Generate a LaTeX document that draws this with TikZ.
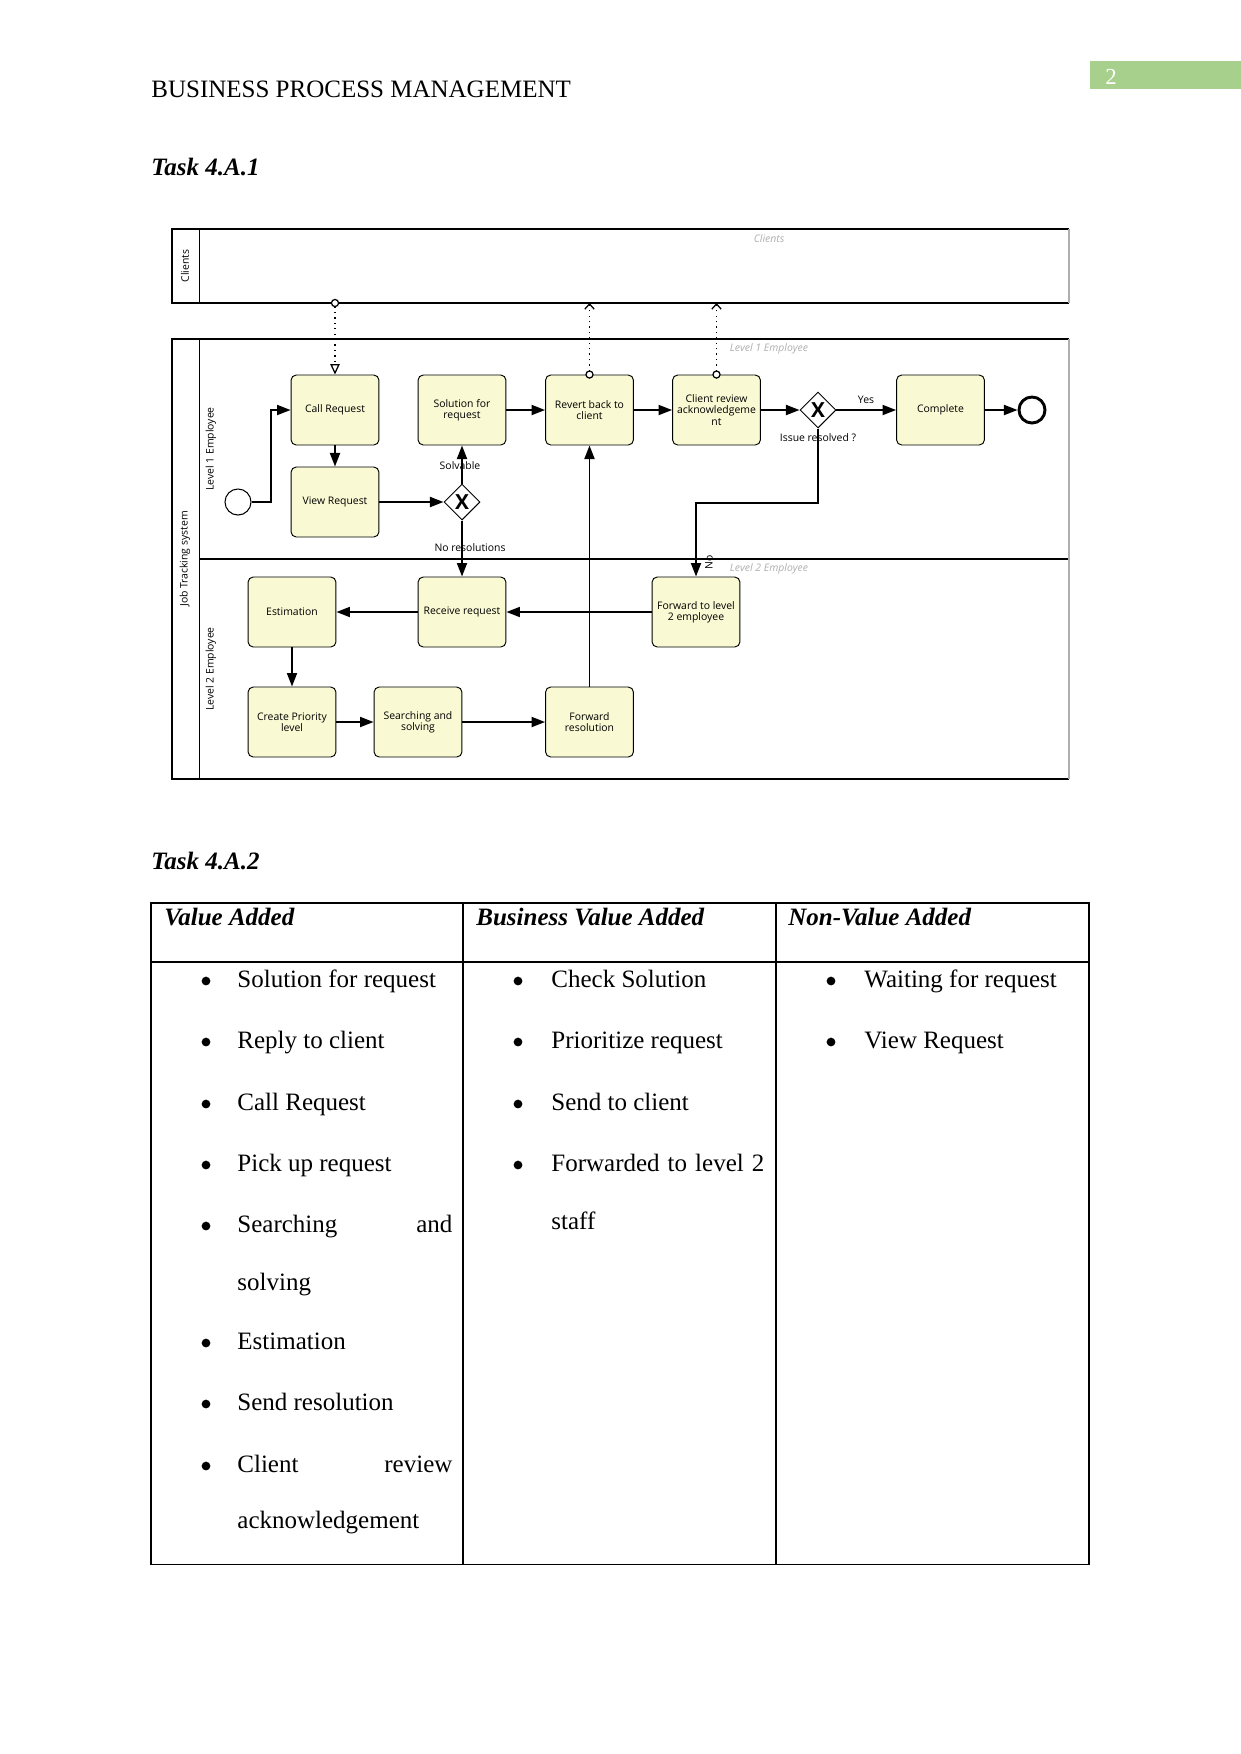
\documentclass[tikz,border=0pt]{standalone}
\usepackage{fontspec}
\setmainfont{Liberation Serif}
\newfontfamily\bpmnfont{Open Sans}
\usetikzlibrary{arrows.meta,shapes.geometric}

\definecolor{taskfill}{RGB}{249,249,212}
\definecolor{lanegray}{RGB}{175,175,175}
\definecolor{pagegreen}{RGB}{168,208,141}

\tikzset{
  bpmn/.style={font=\bpmnfont\fontsize{5}{5.4}\selectfont},
  task/.style={bpmn, draw, line width=0.45pt, rounded corners=2.5pt, fill=taskfill,
    minimum width=42.2pt, minimum height=33.6pt, inner sep=1pt, align=center},
  gate/.style={draw, diamond, line width=0.45pt, fill=white, minimum size=17.3pt,
    inner sep=0pt, font=\bpmnfont\fontsize{10}{10}\bfseries\selectfont},
  event/.style={draw, circle, fill=white, minimum size=12.5pt, inner sep=0pt},
  seq/.style={line width=0.9pt, -{Triangle[length=6.5pt,width=4.8pt]}},
  msg/.style={line width=0.6pt, dotted, shorten <=-2pt},
  msgin/.style={msg, {Circle[fill=white,length=4pt]}-{Triangle[open,length=5pt,width=4.5pt]}},
  msgout/.style={msg, {Circle[fill=white,length=4pt]}-{Straight Barb[length=2.5pt,width=4.5pt]}},
  lbl/.style={bpmn, inner sep=0pt},
  ghost/.style={inner sep=0pt, font=\bpmnfont\itshape\fontsize{5}{5}\selectfont, text=lanegray},
  lanelbl/.style={lbl, rotate=90},
  tcell/.style={anchor=base west, inner sep=0pt, font=\fontsize{12}{14}\selectfont},
  bul/.style={circle, fill, inner sep=0pt, minimum size=4.2pt},
  thead/.style={tcell, font=\fontsize{12}{14}\selectfont\bfseries\itshape}
}

\begin{document}
\begin{tikzpicture}[x=0.48pt, y=-0.48pt]
\fill[white] (0,0) rectangle (1241,1754);
\useasboundingbox (0,0) rectangle (1241,1754);

% page head
\fill[pagegreen] (1090,61) rectangle (1241,89);
\node[anchor=base west, inner sep=0pt, text=white, font=\fontsize{11}{13}\selectfont] (pg) at (1105,84) {2};
\node[tcell] (title) at (151,97) {BUSINESS PROCESS MANAGEMENT};
\node[thead] (taska) at (151,175) {Task 4.A.1};

% pools and lanes
\draw[line width=0.5pt] (1069,229) -- (172,229) -- (172,303) -- (1069,303);
\draw[line width=0.5pt] (199.5,229) -- (199.5,303);
\draw[lanegray, line width=0.5pt] (1069,229) -- (1069,303);
\draw[line width=0.5pt] (1069,339) -- (172,339) -- (172,779) -- (1069,779);
\draw[line width=0.5pt] (199.5,339) -- (199.5,779);
\draw[line width=0.5pt] (199.5,559) -- (1069,559);
\draw[lanegray, line width=0.5pt] (1069,339) -- (1069,779);

\node[lanelbl] (pcl) at (185,266) {Clients};
\node[lanelbl] (pjt) at (185,559) {Job Tracking system};
\node[lanelbl] (ll1) at (211,449) {Level 1 Employee};
\node[lanelbl] (ll2) at (211,669) {Level 2 Employee};
\node[ghost] (gcl) at (769,239) {Clients};
\node[ghost] (gl1) at (769,349) {Level 1 Employee};
\node[ghost] (gl2) at (769,569) {Level 2 Employee};

% level 1
\node[event, line width=0.5pt] (st) at (238,502) {};
\node[task] (cr) at (335,410) {Call Request};
\node[task] (vr) at (335,502) {View Request};
\node[gate] (g1) at (462,502) {X};
\node[task] (sr) at (462,410) {Solution for\\request};
\node[task] (rb) at (589.5,410) {Revert back to\\client};
\node[task] (cv) at (716.5,410) {Client review\\acknowledgeme\\nt};
\node[gate] (g2) at (818,410) {X};
\node[task] (cp) at (940.5,410) {Complete};
\node[event, line width=1.4pt] (en) at (1032,410) {};

% level 2
\node[task] (est) at (292,612) {Estimation};
\node[task] (rr) at (462,612) {Receive request};
\node[task] (fw) at (696,612) {Forward to level\\2 employee};
\node[task] (cpl) at (292,722) {Create Priority\\level};
\node[task] (srch) at (418,722) {Searching and\\solving};
\node[task] (fres) at (589.5,722) {Forward\\resolution};

\coordinate (se) at (271,502);
\coordinate (g2b) at (818,503);
\coordinate (m1) at (335,303);
\coordinate (m2) at (589.5,303);
\coordinate (m3) at (716.5,303);

\draw[seq] (st) -- (se) |- (cr);
\draw[seq] (cr) -- (vr);
\draw[seq] (vr) -- (g1);
\draw[seq] (g1) -- (sr);
\draw[seq] (g1) -- (rr);
\draw[seq] (sr) -- (rb);
\draw[seq] (rb) -- (cv);
\draw[seq] (cv) -- (g2);
\draw[seq] (g2) -- (cp);
\draw[seq] (cp) -- (en);
\draw[seq] (g2) -- (g2b) -| (fw);
\draw[seq] (fw) -- (rr);
\draw[seq] (rr) -- (est);
\draw[seq] (est) -- (cpl);
\draw[seq] (cpl) -- (srch);
\draw[seq] (srch) -- (fres);
\draw[seq] (fres) -- (rb);

\draw[msgin] (m1) -- (cr);
\draw[msgout] (rb) -- (m2);
\draw[msgout] (cv) -- (m3);

\node[lbl] (solv) at (460,466) {Solvable};
\node[lbl] (nores) at (470,548) {No resolutions};
\node[lbl] (yes) at (866,400) {Yes};
\node[lbl] (iss) at (818,438) {Issue resolved ?};
\node[lbl, rotate=90] (no) at (709,562) {No};

% table
\node[thead] (taskb) at (151,869) {Task 4.A.2};
\draw[line width=0.5pt] (151,903) rectangle (1089,1564);
\draw[line width=0.5pt] (463,903) -- (463,1564);
\draw[line width=0.5pt] (776,903) -- (776,1564);
\draw[line width=1pt] (151,962) -- (1089,962);

\node[thead] (h1) at (164,925) {Value Added};
\node[thead] (h2) at (476,925) {Business Value Added};
\node[thead] (h3) at (788,925) {Non-Value Added};

% value added
\node[bul] (b1) at (206,981) {};
\node[tcell] (v1) at (237,987) {Solution for request};
\node[bul] (b2) at (206,1042) {};
\node[tcell] (v2) at (237,1048) {Reply to client};
\node[bul] (b3) at (206,1104) {};
\node[tcell] (v3) at (237,1110) {Call Request};
\node[bul] (b4) at (206,1165) {};
\node[tcell] (v4) at (237,1171) {Pick up request};
\node[bul] (b5) at (206,1226) {};
\node[tcell] (v5) at (237,1232) {\makebox[103.2pt][s]{Searching and}};
\node[tcell] (v5b) at (237,1290) {solving};
\node[bul] (b6) at (206,1343) {};
\node[tcell] (v6) at (237,1349) {Estimation};
\node[bul] (b7) at (206,1404) {};
\node[tcell] (v7) at (237,1410) {Send resolution};
\node[bul] (b8) at (206,1466) {};
\node[tcell] (v8) at (237,1472) {\makebox[103.2pt][s]{Client review}};
\node[tcell] (v8b) at (237,1528) {acknowledgement};

% business value added
\node[bul] (c1) at (518,981) {};
\node[tcell] (w1) at (551,987) {Check Solution};
\node[bul] (c2) at (518,1042) {};
\node[tcell] (w2) at (551,1048) {Prioritize request};
\node[bul] (c3) at (518,1104) {};
\node[tcell] (w3) at (551,1110) {Send to client};
\node[bul] (c4) at (518,1165) {};
\node[tcell] (w4) at (551,1171) {\makebox[102.2pt][s]{Forwarded to level 2}};
\node[tcell] (w4b) at (551,1229) {staff};

% non-value added
\node[bul] (d1) at (831,981) {};
\node[tcell] (n1) at (864,987) {Waiting for request};
\node[bul] (d2) at (831,1042) {};
\node[tcell] (n2) at (864,1048) {View Request};
\end{tikzpicture}
\end{document}
